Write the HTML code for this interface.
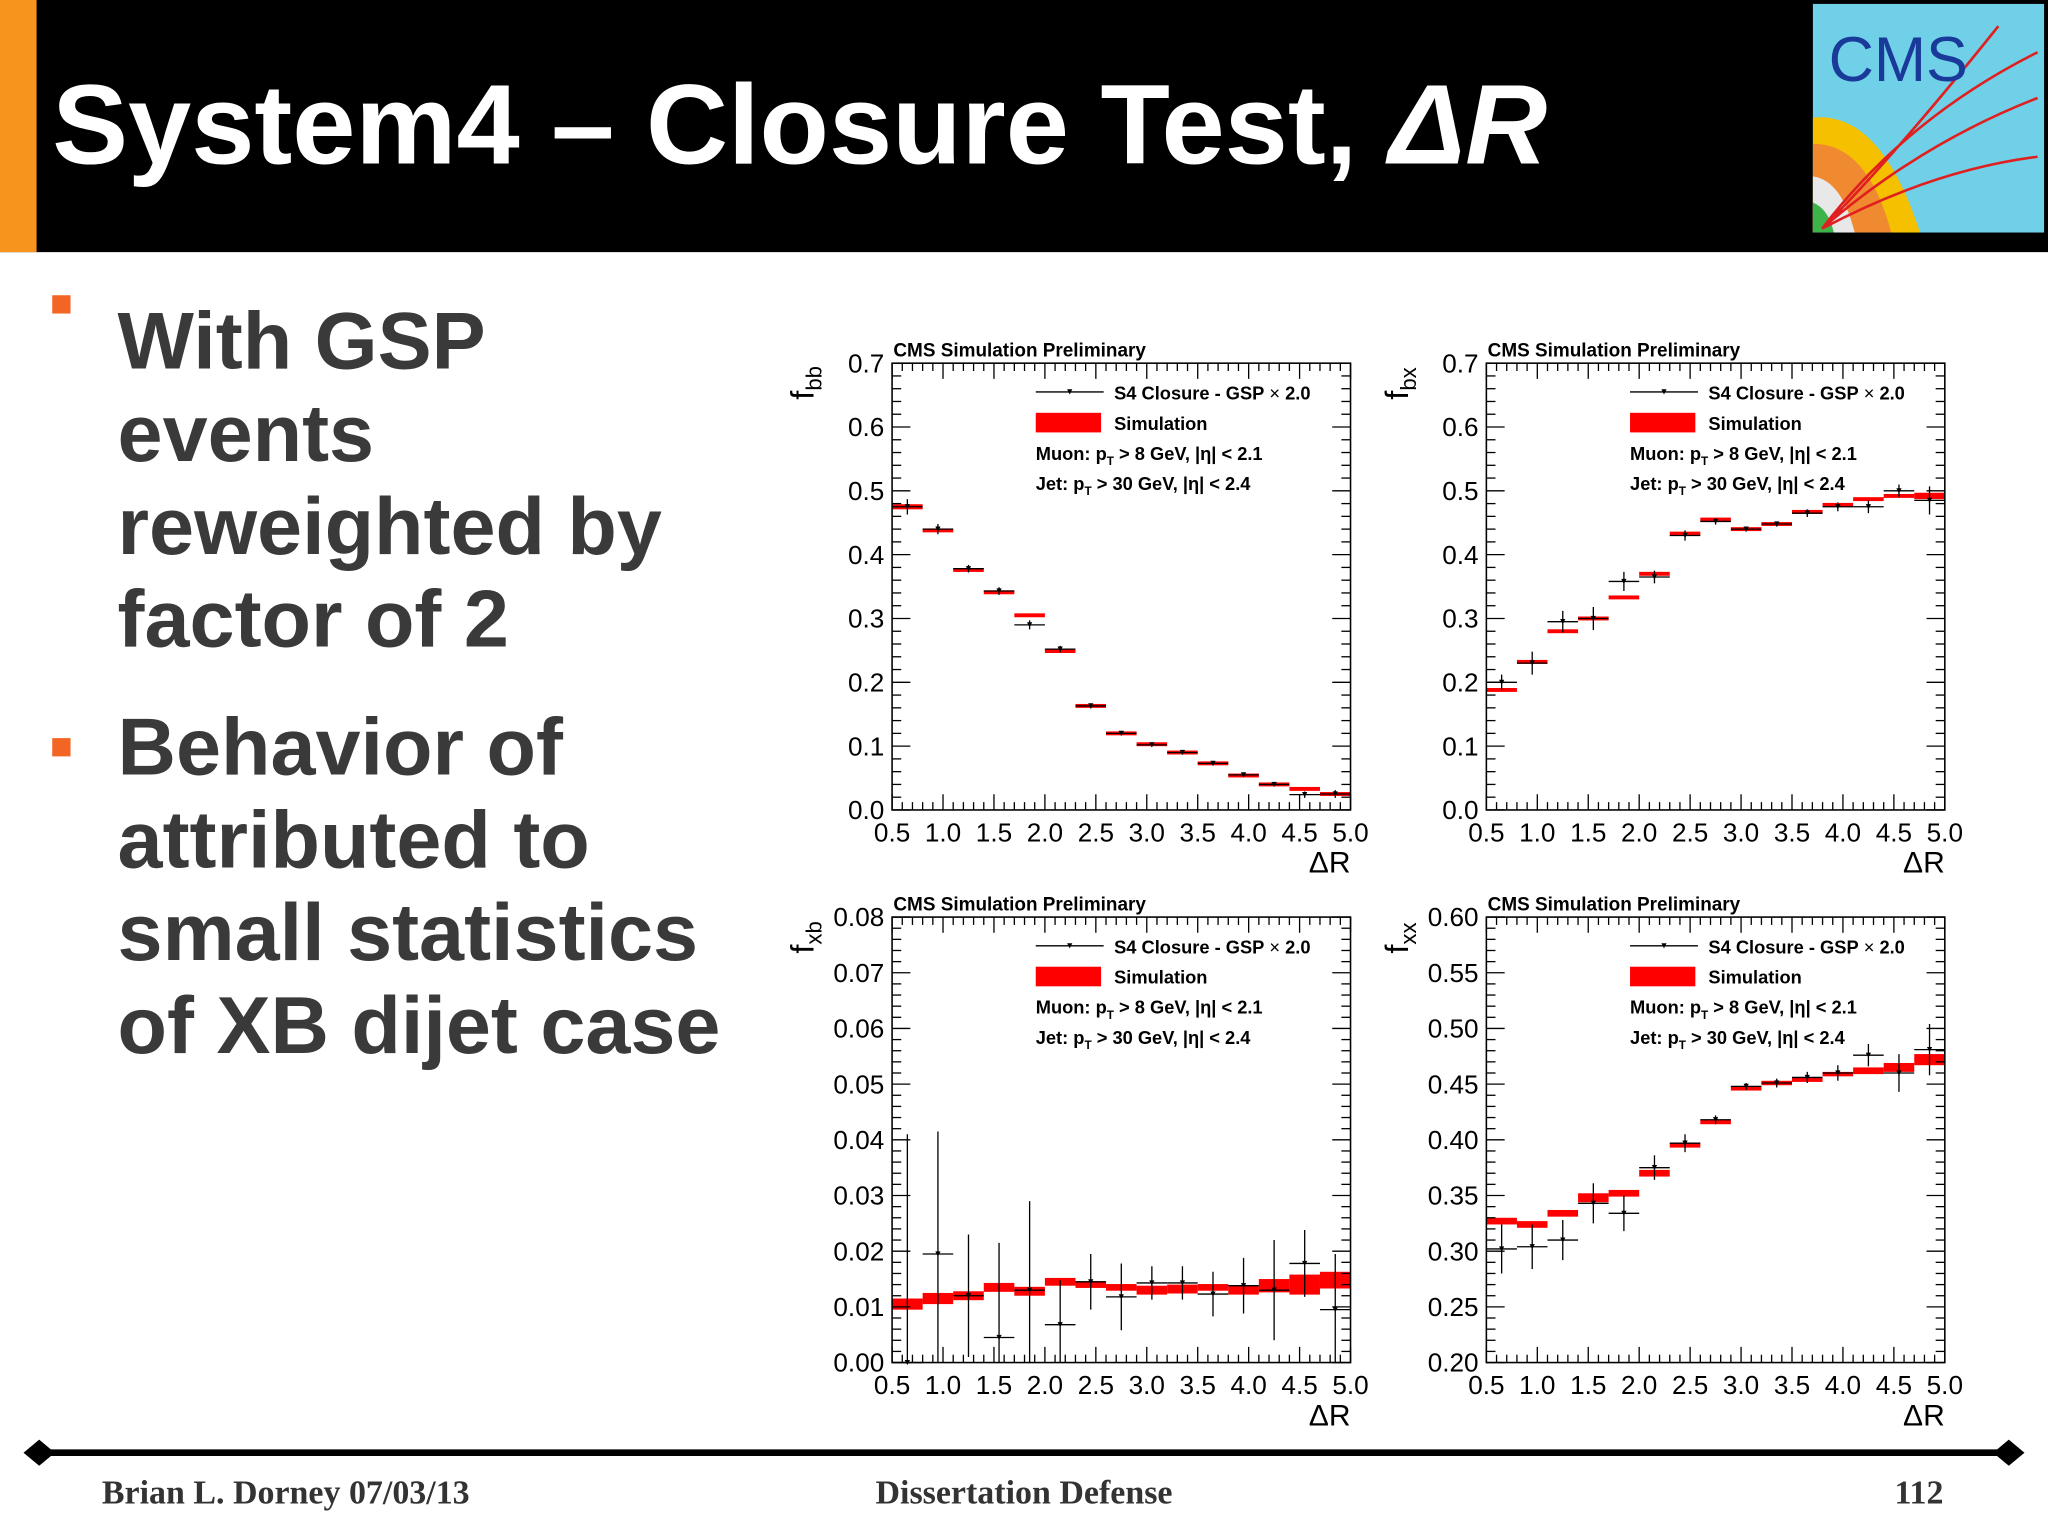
<!DOCTYPE html>
<html><head><meta charset="utf-8"><style>
html,body{margin:0;padding:0;background:#fff;}
svg{display:block;}
</style></head><body>
<svg id="s" width="2048" height="1535" viewBox="0 0 1568 1175" preserveAspectRatio="none" xmlns="http://www.w3.org/2000/svg" font-family="Liberation Sans, sans-serif">
<rect width="1568" height="1175" fill="#fff"/>
<rect x="0" y="0" width="1568" height="193" fill="#000"/>
<rect x="0" y="0" width="28" height="193" fill="#f7941d"/>
<text x="40" y="125" fill="#fff" font-size="87" font-weight="bold">System4 – Closure Test, <tspan font-style="italic">ΔR</tspan></text>
<g>
<rect x="1388" y="3" width="177" height="175" fill="#6fd0e8"/>
<path d="M1388 90 Q1440 85 1470 178 L1388 178Z" fill="#f5c000"/>
<path d="M1388 110 Q1430 110 1448 178 L1388 178Z" fill="#f08a30"/>
<path d="M1388 135 Q1410 138 1420 178 L1388 178Z" fill="#e8e8e8"/>
<path d="M1388 155 Q1400 160 1404 178 L1388 178Z" fill="#3cb44a"/>
<path d="M1395 175 Q1460 90 1560 40 M1395 175 Q1470 110 1560 75 M1395 175 Q1480 130 1560 120 M1395 175 Q1450 120 1530 20" stroke="#e02020" stroke-width="2" fill="none"/>
<text x="1400" y="62" font-size="48" fill="#1a3a9a">CMS</text>
</g>
<g fill="#3a3a3a" font-weight="bold" font-size="62">
<rect x="40" y="226" width="14" height="14" fill="#f26522"/>
<text x="90" y="282">With GSP</text>
<text x="90" y="353">events</text>
<text x="90" y="424">reweighted by</text>
<text x="90" y="495">factor of 2</text>
<rect x="40" y="565" width="14" height="14" fill="#f26522"/>
<text x="90" y="593">Behavior of</text>
<text x="90" y="664">attributed to</text>
<text x="90" y="735">small statistics</text>
<text x="90" y="806">of XB dijet case</text>
</g>
<g>
<line x1="28" y1="1112" x2="1540" y2="1112" stroke="#000" stroke-width="5"/>
<path d="M18 1112 L30 1102 L42 1112 L30 1122Z M1526 1112 L1538 1102 L1550 1112 L1538 1122Z" fill="#000"/>
<g font-family="Liberation Serif, serif" font-weight="bold" font-size="26" fill="#333">
<text x="78" y="1151">Brian L. Dorney 07/03/13</text>
<text x="784" y="1151" text-anchor="middle">Dissertation Defense</text>
<text x="1488" y="1151" text-anchor="end">112</text>
</g></g>
<g id="charts"></g>
</svg>
<script>
const bins=[0.5,0.8,1.1,1.4,1.7,2.0,2.3,2.6,2.9,3.2,3.5,3.8,4.1,4.4,4.7,5.0];
const xTicks=["0.5","1.0","1.5","2.0","2.5","3.0","3.5","4.0","4.5","5.0"];
const fbbPts=[0.475,0.44,0.378,0.343,0.29,0.252,0.163,0.12,0.102,0.09,0.073,0.055,0.04,0.024,0.025];
const fbbErr=[0.012,0.008,0.006,0.006,0.007,0.005,0.004,0.003,0.003,0.003,0.003,0.003,0.003,0.005,0.006];
const fbbSim=[0.475,0.438,0.376,0.341,0.305,0.249,0.163,0.12,0.103,0.09,0.073,0.054,0.04,0.033,0.025];
const fbbSimH=[0.004,0.003,0.003,0.003,0.002,0.002,0.002,0.001,0.001,0.001,0.001,0.001,0.001,0.001,0.002];
const fbxPts=[0.2,0.23,0.295,0.3,0.358,0.365,0.43,0.452,0.44,0.448,0.465,0.475,0.475,0.5,0.485];
const fbxErr=[0.012,0.018,0.017,0.018,0.015,0.01,0.008,0.005,0.004,0.004,0.006,0.007,0.01,0.01,0.022];
const fbxSim=[0.188,0.232,0.28,0.3,0.333,0.37,0.433,0.455,0.44,0.448,0.467,0.478,0.487,0.492,0.492];
const fbxSimH=[0.003,0.003,0.003,0.003,0.002,0.002,0.002,0.001,0.001,0.001,0.002,0.002,0.002,0.003,0.005];
const fxbPts=[0.0,0.0195,0.012,0.0045,0.013,0.0068,0.0145,0.0118,0.0143,0.0143,0.0123,0.0138,0.013,0.0178,0.0095];
const fxbErr=[0.041,0.022,0.011,0.017,0.016,0.008,0.005,0.006,0.003,0.003,0.004,0.005,0.009,0.006,0.01];
const fxbSim=[0.0105,0.0115,0.012,0.0135,0.0128,0.0145,0.014,0.0135,0.013,0.0132,0.0135,0.013,0.0138,0.014,0.0148];
const fxbSimH=[0.001,0.001,0.0008,0.0008,0.0008,0.0007,0.0006,0.0006,0.0008,0.0008,0.0006,0.0008,0.0012,0.0018,0.0015];
const fxxPts=[0.302,0.304,0.31,0.343,0.334,0.375,0.397,0.418,0.448,0.451,0.456,0.46,0.476,0.46,0.481];
const fxxErr=[0.022,0.02,0.018,0.018,0.016,0.011,0.008,0.004,0.003,0.004,0.005,0.007,0.01,0.017,0.023];
const fxxSim=[0.327,0.324,0.334,0.348,0.352,0.37,0.395,0.416,0.446,0.451,0.454,0.459,0.462,0.465,0.472];
const fxxSimH=[0.003,0.003,0.003,0.004,0.003,0.003,0.002,0.002,0.001,0.002,0.002,0.002,0.003,0.004,0.005];
const bbY=["0.0","0.1","0.2","0.3","0.4","0.5","0.6","0.7"];
const xbY=["0.00","0.01","0.02","0.03","0.04","0.05","0.06","0.07","0.08"];
const xxY=["0.20","0.25","0.30","0.35","0.40","0.45","0.50","0.55","0.60"];
const NS="http://www.w3.org/2000/svg";
const root=document.getElementById('charts');
function mk(tag,attrs,parent){const e=document.createElementNS(NS,tag);for(const k in attrs)e.setAttribute(k,attrs[k]);parent.appendChild(e);return e;}
function chart(name,L,T,R,B,ymin,ymax,yLabels,minorPer,sub,pts,err,sim,simH){
  const g=mk('g',{},root);
  
  
  const X=v=>L+(v-0.5)/4.5*(R-L);
  const Y=v=>B-(v-ymin)/(ymax-ymin)*(B-T);
  for(let i=0;i<sim.length;i++){
    const h=Math.max(Y(sim[i]-simH[i])-Y(sim[i]+simH[i]),3);
    const r=mk('rect',{x:X(bins[i]),y:Y(sim[i])-h/2,width:X(bins[i+1])-X(bins[i]),height:h,fill:'#ff0000'},g);
    
    
  }
  for(let i=0;i<pts.length;i++){
    const cx=(X(bins[i])+X(bins[i+1]))/2, cy=Y(pts[i]);
    const p=mk('path',{d:`M${X(bins[i])} ${cy}H${X(bins[i+1])}M${cx} ${Math.min(Y(pts[i]-err[i]),B)}V${Y(pts[i]+err[i])}`,stroke:'#000','stroke-width':1,fill:'none'},g);
    
    
    mk('path',{d:`M${cx-2} ${cy-2}H${cx+2}L${cx} ${cy+2}Z`,fill:'#000'},g);
  }
  mk('rect',{x:L,y:T,width:R-L,height:B-T,fill:'none',stroke:'#000','stroke-width':1.2},g);
  for(let k=0;k<=45;k++){const v=0.5+k*0.1,x=X(v),len=k%5==0?12:6;
    mk('line',{x1:x,y1:B,x2:x,y2:B-len,stroke:'#000'},g);mk('line',{x1:x,y1:T,x2:x,y2:T+len,stroke:'#000'},g);}
  xTicks.forEach((t,i)=>{const tx=mk('text',{x:X(0.5+i*0.5),y:B+24,'font-size':20,'text-anchor':'middle',fill:'#000'},g);tx.textContent=t;
    });
  const n=yLabels.length-1;
  for(let k=0;k<=n*minorPer;k++){const y=B-k/(n*minorPer)*(B-T),len=k%minorPer==0?14:7;
    mk('line',{x1:L,y1:y,x2:L+len,y2:y,stroke:'#000'},g);mk('line',{x1:R,y1:y,x2:R-len,y2:y,stroke:'#000'},g);}
  yLabels.forEach((t,i)=>{const tx=mk('text',{x:L-6,y:B-i/n*(B-T)+7,'font-size':20,'text-anchor':'end',fill:'#000'},g);tx.textContent=t;
    });
  const xt=mk('text',{x:R,y:B+48,'font-size':23,'text-anchor':'end'},g);xt.textContent='ΔR';
  
  const yt=mk('text',{transform:`translate(${L-60},${T+28}) rotate(-90)`,'font-size':25},g);
  yt.innerHTML=`f<tspan font-size="17" dy="6">${sub}</tspan>`;
  
  const ct=mk('text',{x:L+1,y:T-5,'font-size':14.5,'font-weight':'bold'},g);ct.textContent='CMS Simulation Preliminary';
  
  const lg=mk('g',{'font-size':14,'font-weight':'bold'},g);
  
  mk('line',{x1:L+110,y1:T+22,x2:L+162,y2:T+22,stroke:'#000'},lg);
  mk('path',{d:`M${L+134} ${T+20}H${L+138}L${L+136} ${T+24}Z`},lg);
  mk('text',{x:L+170,y:T+28},lg).innerHTML='S4 Closure - GSP<tspan font-weight="normal"> × </tspan>2.0';
  mk('rect',{x:L+110,y:T+38,width:50,height:15,fill:'#ff0000'},lg);
  mk('text',{x:L+170,y:T+51},lg).textContent='Simulation';
  mk('text',{x:L+110,y:T+74},lg).innerHTML='Muon: p<tspan font-size="9" dy="4">T</tspan><tspan dy="-4"> &gt; 8 GeV, |η| &lt; 2.1</tspan>';
  mk('text',{x:L+110,y:T+97},lg).innerHTML='Jet: p<tspan font-size="9" dy="4">T</tspan><tspan dy="-4"> &gt; 30 GeV, |η| &lt; 2.4</tspan>';
}
chart('chart-fbb',683,278,1034,620,0,0.7,bbY,5,'bb',fbbPts,fbbErr,fbbSim,fbbSimH);
chart('chart-fbx',1138,278,1489,620,0,0.7,bbY,5,'bx',fbxPts,fbxErr,fbxSim,fbxSimH);
chart('chart-fxb',683,702,1034,1043,0,0.08,xbY,5,'xb',fxbPts,fxbErr,fxbSim,fxbSimH);
chart('chart-fxx',1138,702,1489,1043,0.2,0.6,xxY,5,'xx',fxxPts,fxxErr,fxxSim,fxxSimH);
</script>
</body></html>
